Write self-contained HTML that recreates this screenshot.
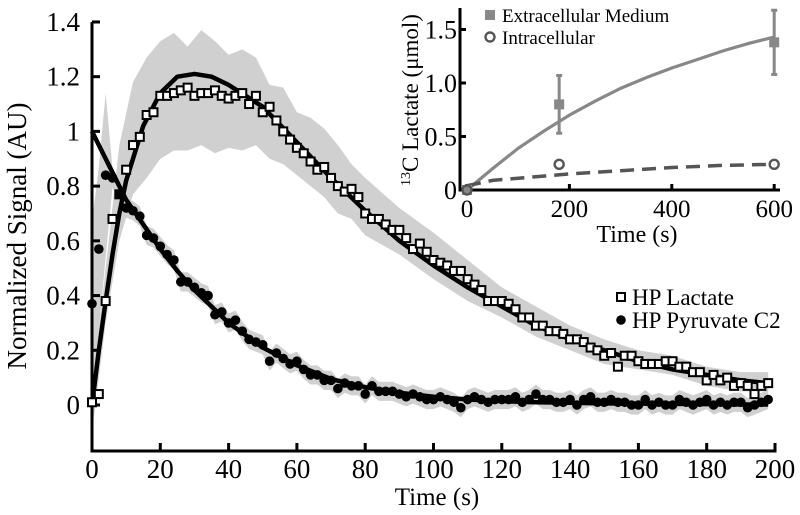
<!DOCTYPE html>
<html><head><meta charset="utf-8"><style>
html,body{margin:0;padding:0;background:#fff;}
svg{display:block;font-family:"Liberation Serif",serif;}
</style></head><body>
<svg id="chart" width="800" height="515" viewBox="0 0 800 515" xmlns="http://www.w3.org/2000/svg">
<g id="bands"></g><g id="main"></g><g id="inset"></g>
</svg>
<script>
// ---- main chart data ----
const tPts = [];
for (let i = 0; i < 100; i++) tPts.push(i * 2);
const lactatePts = [0.01,0.04,0.38,0.68,0.77,0.86,0.95,0.98,1.06,1.07,1.13,1.13,1.14,1.15,1.16,1.13,1.14,1.14,1.15,1.13,1.12,1.13,1.14,1.10,1.13,1.07,1.09,1.04,1.00,0.97,0.94,0.92,0.89,0.86,0.87,0.83,0.80,0.78,0.79,0.76,0.70,0.68,0.68,0.66,0.64,0.64,0.61,0.57,0.59,0.56,0.53,0.52,0.51,0.49,0.49,0.46,0.44,0.42,0.38,0.38,0.38,0.37,0.35,0.32,0.32,0.29,0.29,0.27,0.27,0.26,0.24,0.24,0.23,0.21,0.20,0.18,0.19,0.14,0.18,0.18,0.16,0.15,0.15,0.15,0.16,0.16,0.14,0.14,0.12,0.12,0.09,0.11,0.09,0.10,0.07,0.08,0.07,0.04,0.07,0.08];
const pyruvatePts = [0.37,0.57,0.84,0.83,0.77,0.72,0.71,0.69,0.62,0.61,0.58,0.55,0.53,0.45,0.45,0.43,0.41,0.40,0.33,0.34,0.30,0.31,0.27,0.24,0.23,0.22,0.16,0.19,0.17,0.15,0.16,0.13,0.11,0.11,0.09,0.09,0.06,0.08,0.07,0.07,0.04,0.07,0.05,0.05,0.05,0.04,0.03,0.04,0.03,0.02,0.02,0.03,0.02,0.01,-0.01,0.02,0.03,0.02,0.01,0.02,0.02,0.02,0.03,0.01,0.02,0.04,0.02,0.02,0.01,0.01,0.02,0.00,0.02,0.03,0.01,0.01,0.02,0.01,0.01,0.00,0.00,0.02,0.00,0.01,0.00,0.00,0.02,0.01,0.00,0.01,0.02,0.00,0.01,0.00,0.01,0.01,-0.01,0.00,0.01,0.02];
const tFit = [0,2,4,6,8,10,15,20,25,30,35,40,50,60,70,80,90,100,110,120,130,140,150,160,170,180,190,198];
const lactateFit = [0,0.2,0.38,0.55,0.7,0.82,1.02,1.14,1.2,1.21,1.2,1.17,1.09,0.96,0.83,0.71,0.60,0.51,0.43,0.36,0.29,0.24,0.20,0.16,0.13,0.11,0.09,0.08];
const pyruvateFit = [1,0.95,0.9,0.85,0.8,0.75,0.66,0.57,0.49,0.42,0.36,0.30,0.21,0.145,0.095,0.065,0.045,0.03,0.02,0.014,0.01,0.008,0.006,0.005,0.004,0.003,0.002,0.002];
const tBand = [0,4,8,12,16,20,24,28,32,36,40,44,48,52,56,60,64,68,72,76,80,90,100,110,120,130,140,150,160,170,180,190,198];
const lactateUpper = [0.05,0.5,0.95,1.18,1.27,1.33,1.36,1.31,1.37,1.33,1.28,1.30,1.27,1.17,1.16,1.07,1.05,1.01,0.95,0.88,0.83,0.72,0.63,0.53,0.43,0.36,0.29,0.24,0.20,0.18,0.14,0.12,0.12];
const lactateLower = [-0.1,0.3,0.6,0.77,0.83,0.90,0.93,0.93,0.95,0.92,0.94,0.93,0.95,0.90,0.88,0.84,0.80,0.76,0.70,0.68,0.62,0.55,0.46,0.38,0.32,0.25,0.20,0.15,0.13,0.11,0.07,0.05,0.05];
const xTicks = [0,20,40,60,80,100,120,140,160,180,200];
const yTicks = [0,0.2,0.4,0.6,0.8,1,1.2,1.4];
// ---- inset data ----
const insetT = [0,180,600];
const extraPts = [0,0.8,1.38];
const extraErr = [0,0.27,0.3];
const intraPts = [0,0.24,0.24];
const extraFitT = [0,50,100,150,200,250,300,350,400,450,500,550,600];
const extraFit = [0,0.2,0.39,0.55,0.70,0.83,0.95,1.05,1.14,1.22,1.30,1.37,1.43];
const intraFitT = [0,50,100,200,300,400,500,600];
const intraFit = [0.04,0.09,0.11,0.15,0.18,0.21,0.23,0.24];
const insetXTicks = [0,200,400,600];
const insetYTicks = [0,0.5,1.0,1.5];

const NS = "http://www.w3.org/2000/svg";
function el(tag, attrs, parent, text){const e=document.createElementNS(NS,tag);for(const k in attrs)e.setAttribute(k,attrs[k]);if(text!==undefined)e.textContent=text;parent.appendChild(e);return e;}
const X = t => 92 + t * 3.415;
const Y = v => 405 - v * 273.6;
const bands = document.getElementById('bands');
const main = document.getElementById('main');

let bp = tBand.map((t,i)=>X(t)+','+Y(lactateUpper[i])).join(' ') + ' ' + tBand.slice().reverse().map((t,i)=>X(t)+','+Y(lactateLower[tBand.length-1-i])).join(' ');
let b1 = el('polygon',{points:bp,fill:'#d0d0d0'},bands);


let pp = tPts.map((t,i)=>X(t)+','+Y(pyruvatePts[i]+(i<3?0.3:0.035))).join(' ')+' '+tPts.slice().reverse().map((t,i)=>{const j=tPts.length-1-i;return X(t)+','+Y(pyruvatePts[j]-(j<3?0.3:0.035));}).join(' ');
let b2 = el('polygon',{points:pp,fill:'#d0d0d0'},bands);



let ax = el('path',{d:`M92 22 H100 M92 22 V451 H775 V443`,stroke:'#000','stroke-width':3,fill:'none'},main);


yTicks.forEach(v=>{
  el('line',{x1:92,x2:100,y1:Y(v),y2:Y(v),stroke:'#000','stroke-width':3},main);
  const tx = el('text',{x:80,y:Y(v)+9,'text-anchor':'end','font-size':27},main,String(v));
  
  
});
xTicks.forEach(t=>{
  el('line',{x1:X(t),x2:X(t),y1:443,y2:451,stroke:'#000','stroke-width':3},main);
  const tx = el('text',{x:X(t),y:478,'text-anchor':'middle','font-size':27},main,String(t));
  
  
});
let xt = el('text',{x:437,y:505,'text-anchor':'middle','font-size':25},main,'Time (s)');


let yt = el('text',{x:0,y:0,'text-anchor':'middle','font-size':27,transform:'translate(26,236) rotate(-90)'},main,'Normalized Signal (AU)');



let lf = el('polyline',{points:tFit.map((t,i)=>X(t)+','+Y(lactateFit[i])).join(' '),fill:'none',stroke:'#000','stroke-width':4.5,'stroke-linejoin':'round'},main);


let pf = el('polyline',{points:tFit.map((t,i)=>X(t)+','+Y(pyruvateFit[i])).join(' '),fill:'none',stroke:'#000','stroke-width':4.5,'stroke-linejoin':'round'},main);



tPts.forEach((t,i)=>{
  const s = el('rect',{x:X(t)-4,y:Y(lactatePts[i])-4,width:8,height:8,fill:'#fff',stroke:'#000','stroke-width':2},main);
  
  
  const c = el('circle',{cx:X(t),cy:Y(pyruvatePts[i]),r:4.8,fill:'#000'},main);
  
  
});

let lg = el('g',{},main);


el('rect',{x:617,y:293,width:8,height:8,fill:'#fff',stroke:'#000','stroke-width':2},lg);
el('text',{x:632,y:305,'font-size':23},lg,'HP Lactate');
el('circle',{cx:621,cy:320,r:4.8,fill:'#000'},lg);
el('text',{x:632,y:328,'font-size':23},lg,'HP Pyruvate C2');

const inset = document.getElementById('inset');
const IX = t => 467 + t * 0.512;
const IY = v => 190 - v * 107;
let iax = el('path',{d:'M460 8 V190 H780',stroke:'#000','stroke-width':3,fill:'none'},inset);


insetYTicks.forEach(v=>{
  el('line',{x1:460,x2:466,y1:IY(v),y2:IY(v),stroke:'#000','stroke-width':3},inset);
  const tx = el('text',{x:457,y:IY(v)+9,'text-anchor':'end','font-size':26},inset,v===0?'0':v.toFixed(1));
  
  
});
insetXTicks.forEach(t=>{
  el('line',{x1:IX(t),x2:IX(t),y1:184,y2:190,stroke:'#000','stroke-width':3},inset);
  const tx = el('text',{x:IX(t),y:217,'text-anchor':'middle','font-size':25},inset,String(t));
  
  
});
let ixt = el('text',{x:637,y:242,'text-anchor':'middle','font-size':24},inset,'Time (s)');


let iyt = el('text',{x:0,y:0,'text-anchor':'middle','font-size':23,transform:'translate(418,100) rotate(-90)'},inset);


el('tspan',{'font-size':14,dy:-8},iyt,'13');
el('tspan',{dy:8},iyt,'C Lactate (μmol)');

let ef = el('polyline',{points:extraFitT.map((t,i)=>IX(t)+','+IY(extraFit[i])).join(' '),fill:'none',stroke:'#888','stroke-width':3.2},inset);


let inf = el('polyline',{points:intraFitT.map((t,i)=>IX(t)+','+IY(intraFit[i])).join(' '),fill:'none',stroke:'#555','stroke-width':3.5,'stroke-dasharray':'14 8'},inset);


insetT.forEach((t,i)=>{
  if(extraErr[i]>0){
    const e = el('path',{d:`M${IX(t)} ${IY(extraPts[i]+extraErr[i])} V${IY(extraPts[i]-extraErr[i])} M${IX(t)-3} ${IY(extraPts[i]+extraErr[i])} h6 M${IX(t)-3} ${IY(extraPts[i]-extraErr[i])} h6`,stroke:'#888','stroke-width':3,fill:'none'},inset);
    
    
  }
  const s = el('rect',{x:IX(t)-5,y:IY(extraPts[i])-5,width:10,height:10,fill:'#888'},inset);
  
  
  const c = el('circle',{cx:IX(t),cy:IY(intraPts[i]),r:4.5,fill:'none',stroke:'#555','stroke-width':2.4},inset);
  
  
});
let ilg = el('g',{},inset);


el('rect',{x:485,y:10,width:10,height:10,fill:'#888'},ilg);
el('text',{x:502,y:22,'font-size':19},ilg,'Extracellular Medium');
el('circle',{cx:490,cy:37,r:4.5,fill:'none',stroke:'#555','stroke-width':2.4},ilg);
el('text',{x:502,y:44,'font-size':19},ilg,'Intracellular');
</script>
</body></html>
